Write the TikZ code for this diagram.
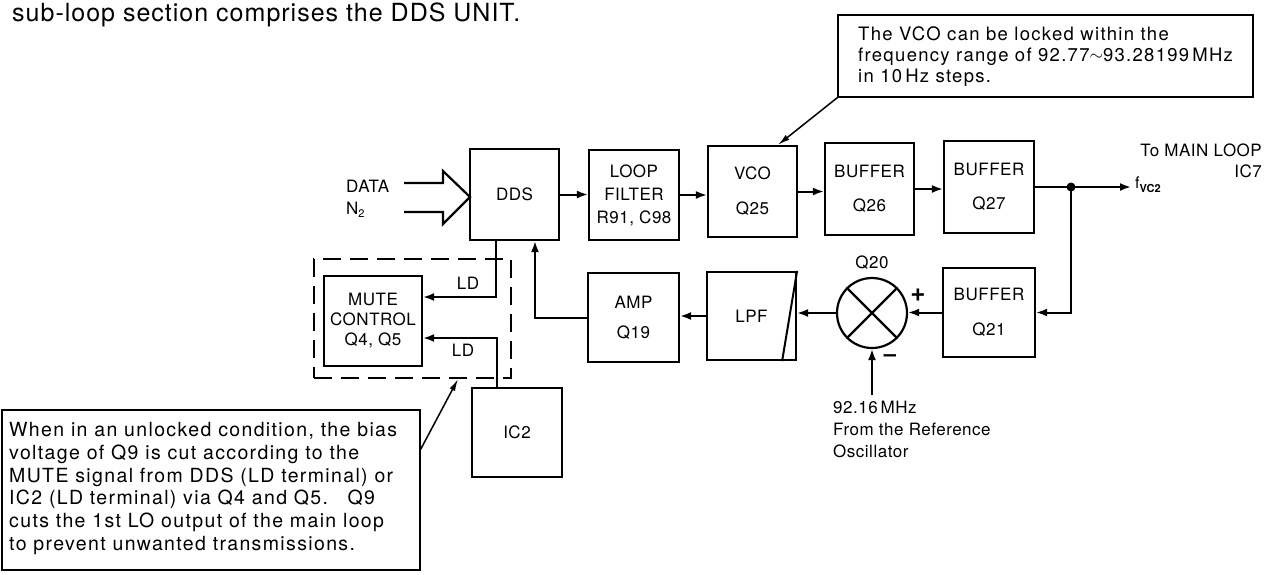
\documentclass[tikz,border=0pt]{standalone}
\usepackage{fontspec}
\setmainfont{TeX Gyre Heros}
\newfontfamily\labfont[LetterSpace=3]{TeX Gyre Heros}
\newfontfamily\notefont[LetterSpace=7]{TeX Gyre Heros}
\newfontfamily\headfont[LetterSpace=4]{TeX Gyre Heros}
\usetikzlibrary{arrows.meta,calc}
\tikzset{
  blk/.style={draw, line width=2.2pt, inner sep=0pt, align=center,
    font=\labfont\fontsize{17}{20}\selectfont},
  lbl/.style={inner sep=0pt, font=\labfont\fontsize{17}{21}\selectfont},
  conn/.style={line width=2pt},
  arr/.style={line width=2pt, -{Latex[length=11pt,width=8pt]}},
  notebox/.style={draw, line width=1.3pt, inner sep=0pt},
  notearr/.style={line width=1.5pt, -{Latex[length=12pt,width=6pt]}},
}
\begin{document}
\begin{tikzpicture}[x=1pt,y=-1pt]
\useasboundingbox (0,0) rectangle (1267,574);

% heading fragment
\node[anchor=base west, inner sep=0pt, font=\headfont\fontsize{25}{25}\selectfont] (head) at (12,21) {sub-loop section comprises the DDS UNIT.};

% blocks
\node[blk, minimum width=89pt, minimum height=91pt] (dds) at (514.5,194.5) {DDS};
\node[blk, minimum width=90pt, minimum height=90pt] (lf) at (634,195) {LOOP\\[3pt]FILTER\\[3pt]R91, C98};
\node[blk, minimum width=89pt, minimum height=91pt] (vco) at (752.5,191.5) {VCO\\[15pt]Q25};
\node[blk, minimum width=89pt, minimum height=92pt] (b26) at (869.5,189) {BUFFER\\[14pt]Q26};
\node[blk, minimum width=90pt, minimum height=92pt] (b27) at (989,187) {BUFFER\\[14pt]Q27};
\node[blk, minimum width=92pt, minimum height=89pt] (b21) at (989,312.5) {BUFFER\\[15pt]Q21};
\node[blk, circle, minimum size=70pt] (mix) at (872,313) {};
\draw[line width=2.2pt] (mix.north west) -- (mix.south east);
\draw[line width=2.2pt] (mix.north east) -- (mix.south west);
\node[blk, minimum width=89pt, minimum height=88pt] (lpf) at (751.5,316) {LPF};
\draw[line width=2pt] ($(lpf.south east)+(-15,0)$) -- (lpf.north east);
\node[blk, minimum width=91pt, minimum height=89pt] (amp) at (633.5,317.5) {AMP\\[10pt]Q19};
\node[blk, minimum width=98pt, minimum height=90pt] (mute) at (373,321) {MUTE\\CONTROL\\Q4, Q5};
\node[blk, minimum width=90pt, minimum height=89pt] (ic2) at (517,432.5) {IC2};
\node[draw, line width=2.2pt, dash pattern=on 18pt off 9pt, minimum width=197pt, minimum height=119pt, inner sep=0pt] (grp) at (412.5,318.5) {};

% DATA input (hollow arrow)
\draw[line width=2.2pt, line join=miter] (404,183) -- (443,183) -- (443,171) -- (470,197) -- (443,224) -- (443,212) -- (404,212);
\node[lbl, anchor=west] (data) at (346,186) {DATA};
\node[lbl, anchor=west] (n2) at (346,210) {N\raisebox{-3pt}{\fontsize{11}{11}\selectfont 2}};

% forward chain
\draw[arr] (dds.east) -- (dds.east -| lf.west);
\draw[arr] (lf.east) -- (lf.east -| vco.west);
\draw[arr] (vco.east) -- (vco.east -| b26.west);
\draw[arr] (b26.east) -- (b26.east -| b27.west);
\coordinate (jn) at (1071,187);
\coordinate (out) at (1131,187);
\draw[conn] (b27.east) -- (jn);
\draw[arr] (jn) -- (out);
\fill (jn) circle (4.5pt);
\draw[arr] (jn) |- (b21.east);
\draw[arr] (b21.west) -- (b21.west -| mix.east);
\draw[arr] (mix.west) -- (mix.west -| lpf.east);
\draw[arr] (lpf.west) -- (lpf.west -| amp.east);
\draw[arr] (amp.west) -| ($(dds.south)+(20.5,0)$);
\draw[arr] ($(dds.south)+(-18.5,0)$) |- ($(mute.east)+(0,-24)$);
\draw[arr] ($(ic2.north)+(-20,0)$) |- ($(mute.east)+(0,17)$);
\coordinate (ref) at (872,395);
\draw[arr] (ref) -- (mix.south);

% labels
\node[lbl] (ld1) at (468,283) {LD};
\node[lbl] (ld2) at (463,350) {LD};
\node[lbl] (q20) at (872,263) {Q20};
\node[inner sep=0pt, font=\bfseries\fontsize{26}{26}\selectfont] (plus) at (918,295) {+};
\node[inner sep=0pt, font=\bfseries\fontsize{22}{22}\selectfont] (minus) at (890,358) {\textendash};
\node[lbl, anchor=north west, align=left] (reft) at (833,401) {92.16\,MHz\\[1pt]From the Reference\\[1pt]Oscillator};
\node[anchor=west, inner sep=0pt, font=\fontsize{16}{16}\selectfont] (fvc) at (1135,185) {f\raisebox{-4pt}{\fontsize{11}{11}\selectfont\bfseries VC2}};
\node[lbl, anchor=north east, align=right] (tomain) at (1262,144) {To MAIN LOOP\\IC7};

% notes
\node[notebox, minimum width=415pt, minimum height=82pt] (n1) at (1045.5,56) {};
\node[anchor=north west, align=left, inner sep=0pt, font=\notefont\fontsize{18.5}{21}\selectfont] (n1t) at (858,26)
  {The VCO can be locked within the\\frequency range of 92.77\raisebox{1pt}{$\sim$}93.28199\,MHz\\in 10\,Hz steps.};
\draw[notearr] (n1.south west) -- ($(vco.north)+(25.5,0)$);

\node[notebox, minimum width=418pt, minimum height=160pt] (n2) at (211,490) {};
\node[anchor=north west, align=left, inner sep=0pt, font=\notefont\fontsize{19.5}{22.8}\selectfont] (n2t) at (9,422)
  {When in an unlocked condition, the bias\\voltage of Q9 is cut according to the\\MUTE signal from DDS (LD terminal) or\\IC2 (LD terminal) via Q4 and Q5.\quad Q9\\cuts the 1st LO output of the main loop\\to prevent unwanted transmissions.};
\draw[notearr] ($(n2.north east)+(0,40)$) -- ($(grp.south)+(45.5,0)$);
\end{tikzpicture}
\end{document}
